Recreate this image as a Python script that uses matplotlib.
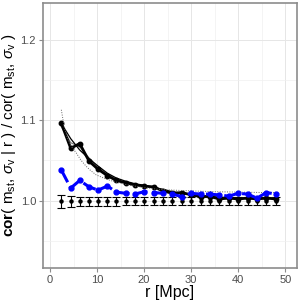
import matplotlib
matplotlib.use("Agg")
import matplotlib.pyplot as plt
from matplotlib.ticker import MultipleLocator

plt.rcParams['font.family'] = ['Liberation Sans', 'DejaVu Sans']
plt.rcParams['mathtext.fontset'] = 'custom'
plt.rcParams['mathtext.rm'] = 'Liberation Sans'
plt.rcParams['mathtext.it'] = 'Liberation Sans:italic'
plt.rcParams['mathtext.bf'] = 'Liberation Sans:bold'

r = [2.4, 4.4, 6.3, 8.3, 10.2, 12.2, 14.1, 16.1, 18.0, 20.0, 22.0, 24.0,
     26.0, 28.0, 30.0, 32.0, 34.0, 36.0, 38.0, 40.0, 42.0, 44.0, 46.0, 48.0]
black_thick = [1.096, 1.065, 1.071, 1.049, 1.039, 1.031, 1.025, 1.022, 1.0195, 1.018, 1.017, 1.012,
               1.009, 1.010, 1.007, 1.005, 1.005, 1.002, 1.003, 1.002, 1.003, 1.002, 1.003, 1.002]
black_thin = [1.096, 1.077, 1.063, 1.052, 1.043, 1.034, 1.028, 1.024, 1.021, 1.019, 1.016, 1.014,
              1.011, 1.009, 1.008, 1.006, 1.005, 1.004, 1.004, 1.003, 1.003, 1.003, 1.003, 1.003]
grey_line = [1.092, 1.072, 1.067, 1.053, 1.041, 1.033, 1.027, 1.023, 1.020, 1.018, 1.016, 1.013,
             1.010, 1.009, 1.007, 1.006, 1.005, 1.004, 1.003, 1.003, 1.003, 1.003, 1.003, 1.003]
blue = [1.038, 1.0155, 1.025, 1.017, 1.013, 1.018, 1.0105, 1.009, 1.008, 1.011, 1.010, 1.009,
        1.008, 1.005, 1.009, 1.008, 1.008, 1.007, 1.0055, 1.009, 1.008, 1.003, 1.010, 1.008]
null_mean = [0.999] * 24
null_err = [0.008, 0.0065, 0.006, 0.006, 0.0055, 0.0055, 0.0055, 0.005, 0.005, 0.005, 0.005, 0.005,
            0.005, 0.005, 0.005, 0.005, 0.005, 0.005, 0.005, 0.005, 0.005, 0.005, 0.005, 0.005]
fit_r = [2.4, 3.0, 3.8, 4.6, 5.6, 6.6, 7.7, 8.7, 9.8, 11.0, 12.3, 14.0, 16.0, 18.0, 20.0,
         23.0, 26.0, 30.0, 35.0, 40.0, 45.0, 48.0]
fit_y = [1.113, 1.092, 1.076, 1.067, 1.059, 1.050, 1.0425, 1.037, 1.032, 1.029, 1.026, 1.023,
         1.020, 1.018, 1.016, 1.014, 1.013, 1.012, 1.011, 1.0105, 1.010, 1.010]

fig = plt.figure(figsize=(3, 3), dpi=100)
ax = fig.add_axes([0.1433, 0.1067, 0.8467, 0.8833])

ax.errorbar(r, null_mean, yerr=null_err, fmt='o', color='black', ms=2.2,
            elinewidth=0.8, capsize=3, capthick=0.8, zorder=3)
ax.plot(r, grey_line, color='#808080', lw=0.9, zorder=4)
ax.plot(r, black_thin, color='black', lw=0.9, zorder=4)
ax.plot(r, black_thick, color='black', lw=2.0, marker='o', ms=3.2, zorder=5)
ax.plot(fit_r, fit_y, color='#666666', lw=0.7, ls=(0, (1, 1.5)), zorder=5)
ax.plot(r, blue, color='#0000ff', lw=2.2, ls=(0, (4.5, 1.5)), marker='o', ms=3.5, zorder=6)

ax.set_xlim(-1.5, 52.5)
ax.set_ylim(0.916, 1.246)
ax.xaxis.set_major_locator(MultipleLocator(10))
ax.xaxis.set_minor_locator(MultipleLocator(5))
ax.yaxis.set_major_locator(MultipleLocator(0.1))
ax.yaxis.set_minor_locator(MultipleLocator(0.05))
ax.yaxis.set_major_formatter(matplotlib.ticker.FormatStrFormatter('%.1f'))
ax.grid(which='major', color='#e6e6e6', lw=0.7)
ax.grid(which='minor', color='#f0f0f0', lw=0.5)
ax.set_axisbelow(True)
for s in ax.spines.values():
    s.set_color('#8c8c8c')
    s.set_linewidth(1.2)
ax.tick_params(which='major', length=3, width=0.8, color='#8c8c8c',
               labelsize=8, labelcolor='#4d4d4d', pad=2)
ax.tick_params(which='minor', length=0)

ax.set_xlabel('r [Mpc]', fontsize=11.5, labelpad=0)
ax.set_ylabel(r'$\mathbf{cor}$( m$_{\mathrm{st}}$, $\sigma_{\mathrm{v}}$ | r ) / cor( m$_{\mathrm{st}}$, $\sigma_{\mathrm{v}}$ )',
              fontsize=11, labelpad=2)

fig.savefig('out.png', dpi=100)
